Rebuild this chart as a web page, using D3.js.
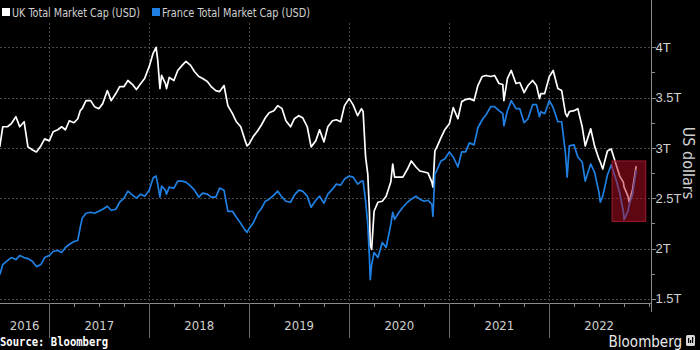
<!DOCTYPE html>
<html>
<head>
<meta charset="utf-8">
<script src="https://cdn.jsdelivr.net/npm/d3@7"></script>
<style>
	body { margin: 0; background: #000; }
	svg { display: block; background: #000; font-family: "Liberation Sans Narrow", "DejaVu Sans Condensed", "Liberation Sans", sans-serif; }
	.grid { stroke: #4a4a4a; stroke-width: 1; stroke-dasharray: 2,2; shape-rendering: crispEdges; }
	.axis path, .axis line { stroke: #8a8a8a; shape-rendering: crispEdges; }
	.axis text { fill: #d0d0d0; }
</style>
</head>
<body>
<svg id="myGraph" width="700" height="350"></svg>
<script>
// 날짜 (대략 반월 간격, 큰 움직임이 있는 날은 추가)
var dates = [
	"2016-07-04","2016-07-15","2016-08-01","2016-08-15","2016-09-01","2016-09-15","2016-10-01","2016-10-15","2016-11-01","2016-11-15","2016-12-01","2016-12-15",
	"2017-01-01","2017-01-15","2017-02-01","2017-02-15","2017-03-01","2017-03-15","2017-04-01","2017-04-15","2017-04-24","2017-05-01","2017-05-15","2017-06-01","2017-06-15",
	"2017-07-01","2017-07-15","2017-08-01","2017-08-15","2017-09-01","2017-09-15","2017-10-01","2017-10-15","2017-11-01","2017-11-15","2017-12-01","2017-12-15",
	"2018-01-01","2018-01-15","2018-01-26","2018-02-01","2018-02-09","2018-02-15","2018-03-01","2018-03-05","2018-03-15","2018-04-01","2018-04-15","2018-05-01","2018-05-15",
	"2018-06-01","2018-06-15","2018-07-01","2018-07-15","2018-08-01","2018-08-15","2018-09-01","2018-09-15","2018-10-01","2018-10-15","2018-11-01","2018-11-15",
	"2018-12-01","2018-12-15","2018-12-24",
	"2019-01-01","2019-01-15","2019-02-01","2019-02-15","2019-03-01","2019-03-15","2019-04-01","2019-04-15","2019-05-01","2019-05-15","2019-06-01","2019-06-15",
	"2019-07-01","2019-07-15","2019-08-01","2019-08-15","2019-09-01","2019-09-15","2019-10-01","2019-10-15","2019-11-01","2019-11-15","2019-12-01","2019-12-15",
	"2020-01-01","2020-01-15","2020-02-01","2020-02-15","2020-02-21","2020-03-01","2020-03-09","2020-03-15","2020-03-18","2020-03-23","2020-04-01","2020-04-15",
	"2020-05-01","2020-05-15","2020-06-01","2020-06-08","2020-06-15","2020-07-01","2020-07-15","2020-08-01","2020-08-15","2020-09-01","2020-09-15",
	"2020-10-01","2020-10-15","2020-10-29","2020-11-02","2020-11-09","2020-11-15","2020-12-01","2020-12-15",
	"2021-01-01","2021-01-15","2021-02-01","2021-02-15","2021-03-01","2021-03-15","2021-04-01","2021-04-15","2021-05-01","2021-05-15","2021-06-01","2021-06-15",
	"2021-07-01","2021-07-15","2021-07-19","2021-08-01","2021-08-15","2021-09-01","2021-09-15","2021-10-01","2021-10-15","2021-11-01","2021-11-15","2021-11-26",
	"2021-12-01","2021-12-15",
	"2022-01-01","2022-01-15","2022-02-01","2022-02-15","2022-03-01","2022-03-07","2022-03-15","2022-04-01","2022-04-15","2022-05-01","2022-05-12","2022-06-01",
	"2022-06-15","2022-07-01","2022-07-06","2022-07-15","2022-08-01","2022-08-15","2022-09-01","2022-09-15","2022-09-28","2022-10-01","2022-10-15","2022-10-20",
	"2022-11-01","2022-11-14"
];

// 영국 시가총액 (조 달러)
var ukCap = [
	3.01,3.21,3.21,3.24,3.31,3.21,3.26,3.01,2.98,2.96,3.02,3.09,
	3.07,3.16,3.18,3.21,3.18,3.27,3.25,3.29,3.37,3.39,3.47,3.47,3.41,
	3.39,3.44,3.57,3.47,3.54,3.61,3.61,3.67,3.63,3.58,3.64,3.69,
	3.81,3.94,4.00,3.87,3.59,3.72,3.64,3.59,3.70,3.67,3.77,3.82,3.86,
	3.82,3.76,3.71,3.69,3.66,3.61,3.57,3.56,3.62,3.42,3.34,3.26,
	3.21,3.09,3.02,
	3.04,3.11,3.17,3.23,3.30,3.35,3.37,3.42,3.39,3.27,3.21,3.29,
	3.32,3.30,3.21,3.01,3.07,3.18,3.06,3.21,3.27,3.28,3.26,3.42,
	3.49,3.43,3.32,3.39,3.36,2.91,2.74,2.37,2.04,1.99,2.37,2.46,
	2.47,2.52,2.66,2.84,2.71,2.71,2.71,2.79,2.87,2.81,2.77,
	2.76,2.75,2.66,2.61,2.97,3.00,3.10,3.18,
	3.24,3.40,3.29,3.46,3.48,3.49,3.47,3.62,3.71,3.72,3.71,3.72,
	3.64,3.63,3.47,3.69,3.77,3.64,3.65,3.55,3.62,3.67,3.62,3.49,
	3.54,3.54,
	3.71,3.77,3.59,3.57,3.34,3.31,3.36,3.37,3.39,3.21,3.02,3.19,
	3.02,2.89,2.86,2.79,2.97,2.99,2.84,2.72,2.66,2.61,2.52,2.46,
	2.59,2.82
];

// 프랑스 시가총액 (조 달러)
var franceCap = [
	1.74,1.84,1.88,1.91,1.89,1.93,1.91,1.90,1.87,1.82,1.84,1.91,
	1.93,1.97,1.98,1.96,2.01,2.04,2.07,2.08,2.21,2.30,2.35,2.36,2.35,
	2.37,2.39,2.42,2.38,2.39,2.46,2.50,2.57,2.53,2.50,2.54,2.52,
	2.58,2.70,2.72,2.64,2.51,2.62,2.58,2.54,2.61,2.60,2.67,2.67,2.66,
	2.62,2.58,2.51,2.55,2.54,2.51,2.51,2.60,2.58,2.37,2.37,2.31,
	2.25,2.19,2.16,
	2.20,2.25,2.35,2.40,2.47,2.49,2.53,2.57,2.51,2.47,2.46,2.53,
	2.58,2.57,2.52,2.41,2.48,2.52,2.45,2.54,2.59,2.64,2.63,2.69,
	2.72,2.71,2.64,2.67,2.67,2.47,2.24,1.91,1.69,1.84,1.96,1.91,
	2.06,2.01,2.24,2.36,2.29,2.36,2.41,2.46,2.49,2.52,2.49,
	2.47,2.48,2.44,2.32,2.74,2.77,2.87,2.89,
	2.96,2.91,2.81,2.96,2.96,3.05,3.03,3.20,3.28,3.33,3.41,3.41,
	3.37,3.34,3.22,3.37,3.47,3.39,3.39,3.25,3.29,3.43,3.43,3.31,
	3.36,3.34,
	3.47,3.40,3.26,3.26,2.94,2.71,3.02,3.03,2.91,2.86,2.67,2.84,
	2.76,2.56,2.46,2.52,2.73,2.83,2.69,2.55,2.37,2.29,2.37,2.44,
	2.54,2.78
];

var yTicks = [1.5, 2, 2.5, 3, 3.5, 4];	// 오른쪽 눈금
var yearLabels = ["2016", "2017", "2018", "2019", "2020", "2021", "2022"];
var seriesNames = ["UK Total Market Cap (USD)", "France Total Market Cap (USD)"];

// 빨간 강조 상자 (날짜, 값)
var boxStart = "2022-08-18", boxEnd = "2022-12-19";
var boxLow = 2.27, boxHigh = 2.87;

window.addEventListener("load", function(){
	var svg = d3.select("#myGraph");
	var parse = d3.utcParse("%Y-%m-%d");
	var plotLeft = 0, plotRight = 651, plotTop = 23, plotBottom = 303;
	var white = "#ffffff", blue = "#1f80e3";

	var xScale = d3.scaleUtc()
		.domain([parse("2017-01-01"), parse("2023-01-01")])
		.range([49.3, 649.3]);
	var yScale = d3.scaleLinear()
		.domain([1.5, 4])
		.range([298.8, 47.3]);

	// 가로 그리드
	svg.append("g").selectAll("line")
		.data(yTicks)
		.enter()
		.append("line")
		.attr("class", "grid")
		.attr("x1", plotLeft)
		.attr("x2", plotRight)
		.attr("y1", function(d){ return Math.round(yScale(d)) + 0.5; })
		.attr("y2", function(d){ return Math.round(yScale(d)) + 0.5; });

	// 세로 그리드 (연도 경계)
	var yearStarts = d3.utcYear.range(parse("2017-01-01"), parse("2023-01-01"));
	svg.append("g").selectAll("line")
		.data(yearStarts)
		.enter()
		.append("line")
		.attr("class", "grid")
		.attr("x1", function(d){ return Math.round(xScale(d)) + 0.5; })
		.attr("x2", function(d){ return Math.round(xScale(d)) + 0.5; })
		.attr("y1", plotTop)
		.attr("y2", plotBottom);

	// 선 그리기
	var pts = dates.map(function(d, i){
		return { date: parse(d), uk: ukCap[i], fr: franceCap[i] };
	});
	var lineUk = d3.line()
		.x(function(d){ return xScale(d.date); })
		.y(function(d){ return yScale(d.uk); });
	var lineFr = d3.line()
		.x(function(d){ return xScale(d.date); })
		.y(function(d){ return yScale(d.fr); });

	svg.append("path")
		.datum(pts)
		.attr("d", lineUk)
		.attr("fill", "none")
		.attr("stroke", white)
		.attr("stroke-width", 1.7)
		.attr("stroke-linejoin", "round");
	svg.append("path")
		.datum(pts)
		.attr("d", lineFr)
		.attr("fill", "none")
		.attr("stroke", blue)
		.attr("stroke-width", 1.7)
		.attr("stroke-linejoin", "round");

	// 강조 상자 (선 위에 반투명)
	var bx0 = xScale(parse(boxStart)), bx1 = xScale(parse(boxEnd));
	svg.append("rect")
		.attr("x", bx0)
		.attr("y", yScale(boxHigh))
		.attr("width", bx1 - bx0)
		.attr("height", yScale(boxLow) - yScale(boxHigh))
		.attr("fill", "rgb(185,14,38)")
		.attr("fill-opacity", 0.5)
		.attr("stroke", "rgb(160,26,46)")
		.attr("stroke-width", 1);

	// 오른쪽 축
	var yAxis = d3.axisRight(yScale)
		.tickValues(yTicks)
		.tickSize(4)
		.tickFormat(function(d){ return d + "T"; });
	var gy = svg.append("g")
		.attr("class", "axis")
		.attr("transform", "translate(" + (plotRight + 0.5) + ",0)")
		.call(yAxis);
	gy.select(".domain").remove();
	gy.selectAll("text")
		.attr("x", 4)
		.style("font-size", "13px");

	var minorY = d3.range(1.75, 4, 0.5);
	gy.selectAll("line.minor")
		.data(minorY)
		.enter()
		.append("line")
		.attr("class", "minor")
		.attr("x1", 0)
		.attr("x2", 3)
		.attr("y1", function(d){ return Math.round(yScale(d)) + 0.5; })
		.attr("y2", function(d){ return Math.round(yScale(d)) + 0.5; });

	svg.append("line")
		.attr("x1", plotRight + 0.5)
		.attr("x2", plotRight + 0.5)
		.attr("y1", 0)
		.attr("y2", 312)
		.attr("stroke", "#8a8a8a")
		.attr("shape-rendering", "crispEdges");

	svg.append("text")
		.attr("transform", "translate(683,163) rotate(90)")
		.attr("text-anchor", "middle")
		.attr("fill", "#d0d0d0")
		.style("font-size", "16px")
		.text("US dollars");

	// 아래쪽 축: 분기 눈금
	var xMinor = d3.axisBottom(xScale)
		.ticks(d3.utcMonth.every(3))
		.tickSize(3)
		.tickFormat("");
	var gx = svg.append("g")
		.attr("class", "axis")
		.attr("transform", "translate(0," + (plotBottom + 0.5) + ")")
		.call(xMinor);
	gx.select(".domain").remove();
	gx.selectAll(".tick").filter(function(d){ return xScale(d) < 0 || xScale(d) > plotRight; }).remove();

	svg.append("line")
		.attr("x1", plotLeft)
		.attr("x2", plotRight)
		.attr("y1", plotBottom + 0.5)
		.attr("y2", plotBottom + 0.5)
		.attr("stroke", "#8a8a8a")
		.attr("shape-rendering", "crispEdges");

	// 연도 구분선
	svg.append("g").selectAll("line")
		.data(yearStarts)
		.enter()
		.append("line")
		.attr("x1", function(d){ return Math.round(xScale(d)) + 0.5; })
		.attr("x2", function(d){ return Math.round(xScale(d)) + 0.5; })
		.attr("y1", plotBottom)
		.attr("y2", 338)
		.attr("stroke", "#6a6a6a")
		.attr("shape-rendering", "crispEdges");

	// 연도 라벨 (보이는 구간 가운데)
	svg.append("g").selectAll("text")
		.data(yearLabels)
		.enter()
		.append("text")
		.attr("x", function(d){
			var a = Math.max(plotLeft, xScale(parse(d + "-01-01")));
			var b = Math.min(plotRight - 2, xScale(parse((+d + 1) + "-01-01")));
			return (a + b) / 2;
		})
		.attr("y", 330)
		.attr("text-anchor", "middle")
		.attr("fill", "#d0d0d0")
		.style("font-size", "13px")
		.text(function(d){ return d; });

	// 범례
	var legend = svg.append("g");
	var legendX = [2, 152];
	var legendW = [128, 148];
	var legendColors = [white, blue];
	seriesNames.forEach(function(name, i){
		legend.append("rect")
			.attr("x", legendX[i])
			.attr("y", 8)
			.attr("width", 8)
			.attr("height", 8)
			.attr("fill", legendColors[i]);
		legend.append("text")
			.attr("x", legendX[i] + 10)
			.attr("y", 17)
			.attr("fill", "#d0d0d0")
			.attr("textLength", legendW[i])
			.attr("lengthAdjust", "spacingAndGlyphs")
			.style("font-size", "12.5px")
			.text(name);
	});

	// 출처
	svg.append("text")
		.attr("x", 0)
		.attr("y", 346)
		.attr("fill", "#ffffff")
		.attr("textLength", 108)
		.attr("lengthAdjust", "spacingAndGlyphs")
		.style("font-size", "12px")
		.style("font-weight", "bold")
		.style("font-family", "'DejaVu Sans Mono', monospace")
		.text("Source: Bloomberg");

	svg.append("text")
		.attr("x", 682)
		.attr("y", 347)
		.attr("text-anchor", "end")
		.attr("fill", "#e8e8e8")
		.style("font-size", "15px")
		.text("Bloomberg");

	// 블룸버그 아이콘
	var icon = svg.append("g").attr("transform", "translate(686,335)");
	icon.append("rect")
		.attr("width", 9)
		.attr("height", 11)
		.attr("rx", 1.5)
		.attr("fill", "#d8d8d8");
	icon.selectAll("rect.bar")
		.data([[2, 3, 5], [4, 5, 3], [6, 2, 6]])
		.enter()
		.append("rect")
		.attr("class", "bar")
		.attr("x", function(d){ return d[0]; })
		.attr("y", function(d){ return d[1]; })
		.attr("width", 1.2)
		.attr("height", function(d){ return d[2]; })
		.attr("fill", "#000");
});
</script>
</body>
</html>
